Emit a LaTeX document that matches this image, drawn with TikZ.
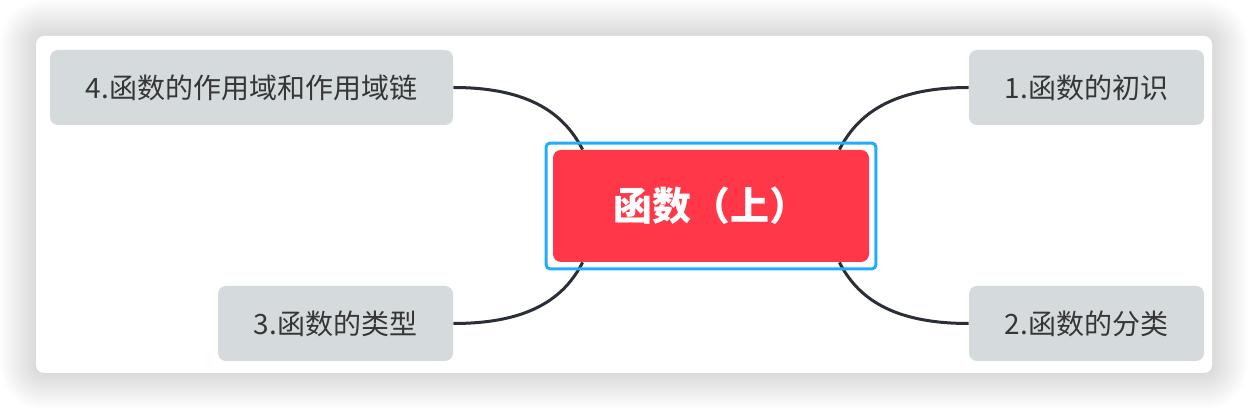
\documentclass[tikz,border=0pt]{standalone}
\usepackage{fontspec}
\setmainfont{Noto Sans CJK SC}
\usetikzlibrary{positioning, fit, backgrounds}
\usepackage{xcolor}
\definecolor{topicGray}{HTML}{D5DBDD}
\definecolor{topicText}{HTML}{363636}
\definecolor{rootRed}{HTML}{FF3748}
\definecolor{selBlue}{HTML}{20AEFA}
\definecolor{linkDark}{HTML}{2A2E36}

\pgfdeclarelayer{edges}
\pgfsetlayers{background,edges,main}

\begin{document}
\begin{tikzpicture}[
    x=0.5pt, y=-0.5pt,
    topic/.style={
        fill=topicGray, rounded corners=4pt, minimum height=37.5pt,
        inner sep=0pt, text=topicText, font=\fontsize{14}{16}\selectfont
    },
    rootblock/.style={
        fill=rootRed, rounded corners=4pt, minimum width=158pt, minimum height=56pt,
        inner sep=0pt, text=white, font=\fontsize{19.5}{23}\selectfont\bfseries
    },
    link/.style={draw=linkDark, line width=1.5pt},
]
\useasboundingbox (0,0) rectangle (1248,410);

% ============================================
% Root topic
% ============================================
\node[rootblock] (root) at (711,206) {函数（上）};
\node[draw=selBlue, line width=1.5pt, rounded corners=2pt, inner sep=3.25pt, fit=(root)] (rootsel) {};

% ============================================
% Sub topics
% ============================================
\node[topic, minimum width=117.5pt] (t1) at (1086.5,87.5) {1.函数的初识};
\node[topic, minimum width=117.5pt] (t2) at (1086.5,323.5) {2.函数的分类};
\node[topic, minimum width=117.5pt] (t3) at (335.5,323.5) {3.函数的类型};
\node[topic, minimum width=201.5pt] (t4) at (251.5,87.5) {4.函数的作用域和作用域链};

% ============================================
% Connections
% ============================================
\coordinate (rnw) at ([xshift=15pt]root.north west);
\coordinate (rne) at ([xshift=-15pt]root.north east);
\coordinate (rsw) at ([xshift=15pt]root.south west);
\coordinate (rse) at ([xshift=-15pt]root.south east);

\begin{pgfonlayer}{edges}
\draw[link] (t4.east) .. controls +(77,0) and +(-18,-35) .. (rnw);
\draw[link] (t3.east) .. controls +(77,0) and +(-18,35) .. (rsw);
\draw[link] (t1.west) .. controls +(-77,0) and +(18,-35) .. (rne);
\draw[link] (t2.west) .. controls +(-77,0) and +(18,35) .. (rse);
\end{pgfonlayer}

% ============================================
% Card with shadow
% ============================================
\begin{scope}[on background layer]
\foreach \s in {1,...,18}
    \fill[black, opacity=0.009, rounded corners=4pt+\s pt] (36-2*\s,36-2*\s) rectangle (1212+2*\s,373+2*\s);
\fill[white, rounded corners=4pt] (36,36) rectangle (1212,373);
\end{scope}

\end{tikzpicture}
\end{document}
